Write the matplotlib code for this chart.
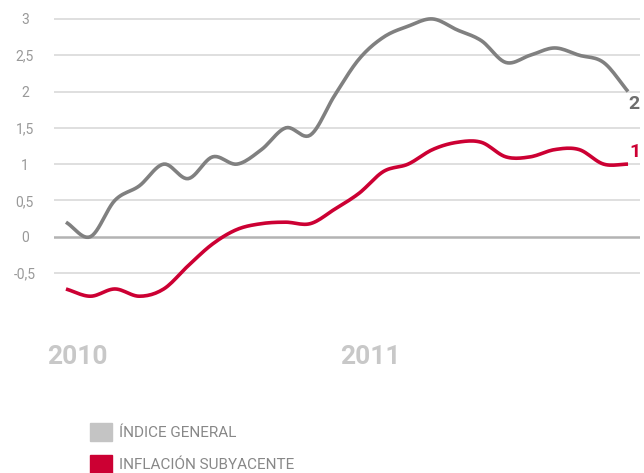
import numpy as np
import matplotlib
matplotlib.use("Agg")
import matplotlib.pyplot as plt
from matplotlib.patches import Patch

plt.rcParams['font.family'] = ['Roboto', 'DejaVu Sans']

# monthly values, Jan 2010 .. Dec 2011
months = list(range(24))
indice_general = [0.2, 0.0, 0.5, 0.7, 1.0, 0.8, 1.1, 1.0, 1.2, 1.5, 1.4, 1.95,
                  2.45, 2.75, 2.9, 3.0, 2.85, 2.7, 2.4, 2.5, 2.6, 2.5, 2.4, 2.0]
inflacion_sub = [-0.72, -0.82, -0.72, -0.82, -0.72, -0.4, -0.1, 0.1, 0.18, 0.2, 0.18, 0.38,
                 0.6, 0.9, 1.0, 1.2, 1.3, 1.3, 1.1, 1.1, 1.2, 1.2, 1.0, 1.0]
yticks = [-0.5, 0, 0.5, 1, 1.5, 2, 2.5, 3]
ytick_labels = ['-0,5', '0', '0,5', '1', '1,5', '2', '2,5', '3']
years = ['2010', '2011']
year_pos = [0, 12]
legend_labels = ['ÍNDICE GENERAL', 'INFLACIÓN SUBYACENTE']

GREY = '#808080'
RED = '#cc0033'


def smooth(x, y, n=12):
    # catmull-rom curve through the points, for drawing only
    x = np.asarray(x, float)
    y = np.asarray(y, float)
    px = np.concatenate([[2 * x[0] - x[1]], x, [2 * x[-1] - x[-2]]])
    py = np.concatenate([[2 * y[0] - y[1]], y, [2 * y[-1] - y[-2]]])
    xs, ys = [], []
    t = np.linspace(0, 1, n, endpoint=False)
    for i in range(1, len(px) - 2):
        for p, out in ((px, xs), (py, ys)):
            p0, p1, p2, p3 = p[i - 1], p[i], p[i + 1], p[i + 2]
            out.extend(0.5 * (2 * p1 + (-p0 + p2) * t + (2 * p0 - 5 * p1 + 4 * p2 - p3) * t ** 2
                              + (-p0 + 3 * p1 - 3 * p2 + p3) * t ** 3))
    xs.append(x[-1])
    ys.append(y[-1])
    return xs, ys


fig = plt.figure(figsize=(6.44, 4.73), dpi=100)
ax = fig.add_axes([54 / 644, 1 - 298.4 / 473, 586 / 644, 283.1 / 473])
ax.set_xlim(-0.49, 23.49)
ax.set_ylim(-0.85, 3.05)

for v in yticks:
    if v == 0:
        ax.axhline(v, color='#b3b3b3', lw=1.8, zorder=1)
    else:
        ax.axhline(v, color='#dcdcdc', lw=1.3, zorder=1)

ax.plot(*smooth(months, indice_general), color=GREY, lw=2.6, solid_capstyle='butt', zorder=3)
ax.plot(*smooth(months, inflacion_sub), color=RED, lw=2.6, solid_capstyle='butt', zorder=3)

ax.annotate(f'{indice_general[-1]:g}', (months[-1], indice_general[-1]), xytext=(4, -9),
            textcoords='offset points', ha='center', va='center', fontsize=14,
            fontweight='bold', color='#6e6e6e', annotation_clip=False)
ax.annotate(f'{inflacion_sub[-1]:g}', (months[-1], inflacion_sub[-1]), xytext=(5, 9),
            textcoords='offset points', ha='center', va='center', fontsize=14,
            fontweight='bold', color=RED, annotation_clip=False)

ax.set_yticks(yticks)
ax.set_yticklabels(ytick_labels, ha='center')
ax.tick_params(axis='y', length=0, pad=21, labelsize=10, labelcolor='#999999')
ax.set_xticks([])
for s in ax.spines.values():
    s.set_visible(False)

for yr, pos in zip(years, year_pos):
    ax.text(pos - 0.78, -1.66, yr, ha='left', va='center', fontsize=19,
            fontweight='bold', color='#c8c8c8', clip_on=False)

handles = [Patch(color='#c4c4c4'), Patch(color=RED)]
fig.legend(handles, legend_labels, loc='upper left', bbox_to_anchor=(84 / 644, 1 - 417 / 473),
           frameon=False, fontsize=11, labelcolor='#888888', handlelength=1.4,
           handleheight=1.4, handletextpad=0.5, labelspacing=0.95, borderaxespad=0)

fig.savefig('out.png', dpi=100)
